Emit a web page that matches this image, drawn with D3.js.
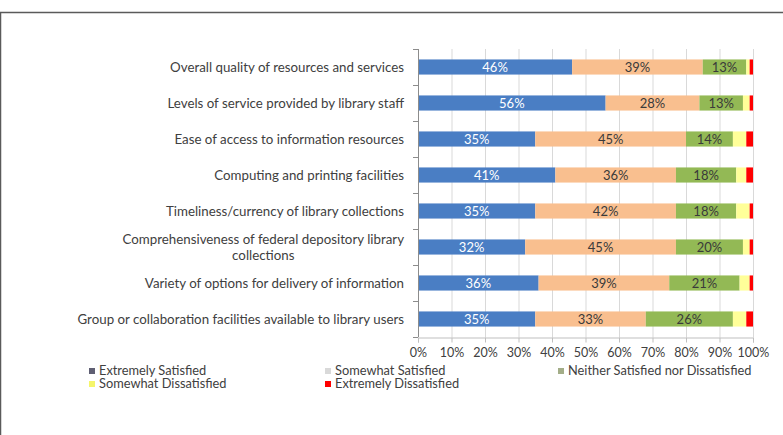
<!DOCTYPE html>
<html>
<head>
<meta charset="utf-8">
<script src="https://cdn.jsdelivr.net/npm/d3@7"></script>
<style>
  body { margin: 0; background: #fff; }
  svg { display: block; font-family: Lato, "Open Sans", sans-serif; }
</style>
</head>
<body>
<svg width="783" height="435"></svg>
<script>
// categories, top to bottom
var categories = [
  "Overall quality of resources and services",
  "Levels of service provided by library staff",
  "Ease of access to information resources",
  "Computing and printing facilities",
  "Timeliness/currency of library collections",
  "Comprehensiveness of federal depository library|collections",
  "Variety of options for delivery of information",
  "Group or collaboration facilities available to library users"
];

var seriesNames = ["Extremely Satisfied", "Somewhat Satisfied", "Neither Satisfied nor Dissatisfied",
  "Somewhat Dissatisfied", "Extremely Dissatisfied"];

// percent values per series (same order as categories)
var extremelySatisfied  = [46, 56, 35, 41, 35, 32, 36, 35];
var somewhatSatisfied   = [39, 28, 45, 36, 42, 45, 39, 33];
var neither             = [13, 13, 14, 18, 18, 20, 21, 26];
var somewhatDissatisfied = [1, 2, 4, 3, 4, 2, 3, 4];
var extremelyDissatisfied = [1, 1, 2, 2, 1, 1, 1, 2];

var xTicks = [0, 0.1, 0.2, 0.3, 0.4, 0.5, 0.6, 0.7, 0.8, 0.9, 1];

// bar colours and the (oddly faded) legend swatch colours
var barColors = ["#4a7ec4", "#f9bf8f", "#93b955", "#ffff99", "#ff0000"];
var legendColors = ["#5f5f73", "#d9d9d9", "#a3ad88", "#f5f56a", "#ff0000"];

var svg = d3.select("svg");

// outer chart frame
svg.append("rect")
  .attr("x", 0.5).attr("y", 12.5)
  .attr("width", 900).attr("height", 600)
  .attr("fill", "none").attr("stroke", "#5a5a5a").attr("stroke-width", 1.5);

var plotLeft = 418, plotRight = 753, plotTop = 49, plotBottom = 337;

var x = d3.scaleLinear().domain([0, 1]).range([plotLeft, plotRight]);
var y = d3.scaleBand().domain(categories).range([plotTop, plotBottom])
  .paddingInner(0.58).paddingOuter(0.29);

// build rows for the stack
var rows = categories.map(function(c, i) {
  return {
    cat: c,
    s0: extremelySatisfied[i], s1: somewhatSatisfied[i], s2: neither[i],
    s3: somewhatDissatisfied[i], s4: extremelyDissatisfied[i]
  };
});
var keys = ["s0", "s1", "s2", "s3", "s4"];
var stack = d3.stack().keys(keys).offset(d3.stackOffsetExpand);
var layers = stack(rows);

// gridlines
svg.append("g").selectAll("line")
  .data(xTicks.slice(1))
  .enter().append("line")
  .attr("x1", function(d) { return x(d) + 0.5; })
  .attr("x2", function(d) { return x(d) + 0.5; })
  .attr("y1", plotTop).attr("y2", plotBottom)
  .attr("stroke", "#d9d9d9");

// x axis
var xAxis = svg.append("g")
  .attr("transform", "translate(0," + (plotBottom + 0.5) + ")")
  .call(d3.axisBottom(x).tickValues(xTicks).tickFormat(d3.format(".0%")).tickSize(5).tickPadding(6));
xAxis.select(".domain").attr("stroke", "#bfbfbf");
xAxis.selectAll(".tick line").attr("stroke", "#bfbfbf");
xAxis.selectAll("text").attr("fill", "#404040").style("font-size", "12.5px").style("font-family", "Lato, sans-serif");

// bars
var barG = svg.append("g");
layers.forEach(function(layer, k) {
  barG.selectAll(".b" + k)
    .data(layer)
    .enter().append("rect")
    .attr("x", function(d) { return x(d[0]); })
    .attr("y", function(d) { return y(d.data.cat); })
    .attr("width", function(d) { return x(d[1]) - x(d[0]); })
    .attr("height", y.bandwidth())
    .attr("fill", barColors[k]);
});

// value labels for first three series
layers.slice(0, 3).forEach(function(layer, k) {
  barG.selectAll(".t" + k)
    .data(layer)
    .enter().append("text")
    .attr("x", function(d) { return (x(d[0]) + x(d[1])) / 2; })
    .attr("y", function(d) { return y(d.data.cat) + y.bandwidth() / 2; })
    .attr("dy", "0.35em")
    .attr("text-anchor", "middle")
    .style("font-size", "13px")
    .attr("fill", k === 0 ? "#ffffff" : "#3a3a3a")
    .text(function(d) { return d.data[keys[k]] + "%"; });
});

// y axis line + ticks at band boundaries
svg.append("line")
  .attr("x1", plotLeft + 0.5).attr("x2", plotLeft + 0.5)
  .attr("y1", plotTop).attr("y2", plotBottom)
  .attr("stroke", "#8c8c8c");
var step = y.step();
svg.append("g").selectAll("line")
  .data(d3.range(categories.length + 1))
  .enter().append("line")
  .attr("x1", plotLeft - 5).attr("x2", plotLeft)
  .attr("y1", function(i) { return plotTop + i * step + 0.5; })
  .attr("y2", function(i) { return plotTop + i * step + 0.5; })
  .attr("stroke", "#8c8c8c");

// category labels (right aligned, 2-line one centred as a block)
var labG = svg.append("g");
categories.forEach(function(c) {
  var lines = c.split("|");
  var cy = y(c) + y.bandwidth() / 2;
  if (lines.length === 1) {
    labG.append("text")
      .attr("x", 404).attr("y", cy).attr("dy", "0.35em")
      .attr("text-anchor", "end")
      .style("font-size", "13.3px").attr("fill", "#404040")
      .text(c);
  } else {
    var t1 = labG.append("text")
      .attr("x", 404).attr("y", cy - 8).attr("dy", "0.35em")
      .attr("text-anchor", "end")
      .style("font-size", "13.3px").attr("fill", "#404040")
      .text(lines[0]);
    var w = t1.node().getComputedTextLength();
    labG.append("text")
      .attr("x", 404 - w / 2).attr("y", cy + 8).attr("dy", "0.35em")
      .attr("text-anchor", "middle")
      .style("font-size", "13.3px").attr("fill", "#404040")
      .text(lines[1]);
  }
});

// legend
var legendPos = [[89, 371], [325, 371], [558, 371], [89, 384], [325, 384]];
var leg = svg.append("g").selectAll("g")
  .data(seriesNames)
  .enter().append("g")
  .attr("transform", function(d, i) { return "translate(" + legendPos[i][0] + "," + legendPos[i][1] + ")"; });
leg.append("rect")
  .attr("x", 0).attr("y", -3).attr("width", 6).attr("height", 6)
  .attr("fill", function(d, i) { return legendColors[i]; });
leg.append("text")
  .attr("x", 10).attr("dy", "0.35em")
  .style("font-size", "12.8px").attr("fill", "#404040")
  .text(function(d) { return d; });
</script>
</body>
</html>
